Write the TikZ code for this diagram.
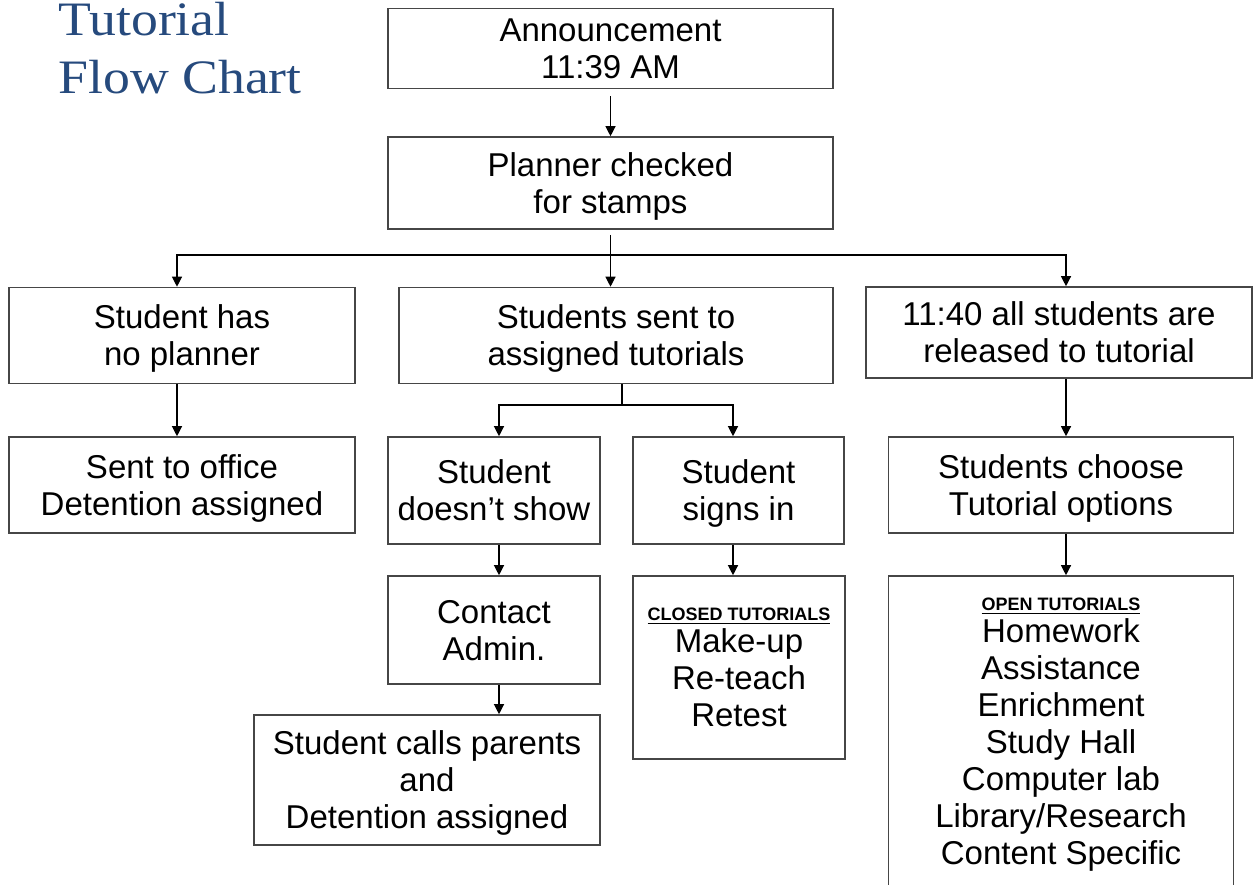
\documentclass[tikz,border=0pt]{standalone}
\usepackage{fontspec}
\setmainfont{Liberation Sans}
\newfontfamily\titlefont[FakeStretch=1.12]{Liberation Serif}
\usetikzlibrary{arrows.meta,calc}
\definecolor{titleblue}{RGB}{38,74,125}
\definecolor{boxline}{RGB}{70,70,70}
\tikzset{
  box/.style={draw=boxline, line width=0.8pt, fill=white, inner sep=0pt, align=center,
    text depth=0pt, font=\fontsize{16.5}{18.5}\selectfont},
  arr/.style={draw=black, line width=0.6pt, -{Triangle[length=5pt,width=5pt]}},
  plain/.style={draw=black, line width=0.6pt},
}
\newcommand{\hdr}[1]{{\fontsize{9}{10}\selectfont\bfseries\underline{#1}}}
\begin{document}
\begin{tikzpicture}[x=0.5pt,y=-0.5pt]
\useasboundingbox (0,0) rectangle (1253,884);
% title
\node[anchor=base west, inner sep=0pt, align=left, text=titleblue,
  font=\titlefont\fontsize{24}{29}\selectfont] (title) at (58,93) {Tutorial\\Flow Chart};
% boxes
\node[box, minimum width=222.5pt, minimum height=40pt] (ann) at (610.5,48.5) {Announcement\\11:39 AM};
\node[box, minimum width=222.5pt, minimum height=46pt] (plan) at (610.5,183) {Planner checked\\for stamps};
\node[box, minimum width=173pt, minimum height=48pt] (nop) at (182,335.5) {Student has\\no planner};
\node[box, minimum width=217pt, minimum height=48pt] (sent) at (616,335.5) {Students sent to\\assigned tutorials};
\node[box, minimum width=193pt, minimum height=45.5pt] (rel) at (1059,332.5) {11:40 all students are\\released to tutorial};
\node[box, minimum width=173pt, minimum height=48pt] (off) at (182,485) {Sent to office\\Detention assigned};
\node[box, minimum width=106pt, minimum height=53.5pt] (nos) at (494,490.5) {Student\\doesn’t show};
\node[box, minimum width=105.5pt, minimum height=53.5pt] (sign) at (738.5,490.5) {Student\\signs in};
\node[box, minimum width=172.5pt, minimum height=48pt] (cho) at (1061,485) {Students choose\\Tutorial options};
\node[box, minimum width=106pt, minimum height=54pt] (adm) at (494,630) {Contact\\Admin.};
\node[box, minimum width=106pt, minimum height=91.5pt] (clo) at (739,667.5)
  {\hdr{CLOSED TUTORIALS}\\[-2.5pt]Make-up\\Re-teach\\Retest};
\node[box, minimum width=173pt, minimum height=65pt] (par) at (427,780)
  {Student calls parents\\and\\Detention assigned};
\node[box, minimum width=172.5pt, minimum height=155pt] (opn) at (1061,731)
  {\hdr{OPEN TUTORIALS}\\[-2.5pt]Homework\\Assistance\\Enrichment\\Study Hall\\Computer lab\\Library/Research\\Content Specific};
% connector helper points
\coordinate (br) at (610.5,255);
\coordinate (cL) at (177,255);
\coordinate (cR) at (1066,255);
\coordinate (sb) at (622,405);
\coordinate (cA) at (499,405);
\coordinate (cB) at (733,405);
% connectors
\draw[arr, shorten <=3.5pt] (ann.south) -- (plan.north);
\draw[arr, shorten <=2.5pt] (plan.south) -- (plan.south |- sent.north);
\draw[arr] (br) -- (cL) -- (cL |- nop.north);
\draw[arr] (br) -- (cR) -- (cR |- rel.north);
\draw[arr] (nop.south -| cL) -- (off.north -| cL);
\draw[arr] (rel.south -| cR) -- (cho.north -| cR);
\draw[arr] (cho.south -| cR) -- (opn.north -| cR);
\draw[plain] (sent.south -| sb) -- (sb);
\draw[arr] (sb) -- (cA) -- (cA |- nos.north);
\draw[arr] (sb) -- (cB) -- (cB |- sign.north);
\draw[arr] (nos.south -| cA) -- (adm.north -| cA);
\draw[arr] (adm.south -| cA) -- (par.north -| cA);
\draw[arr] (sign.south -| cB) -- (clo.north -| cB);
\end{tikzpicture}
\end{document}
